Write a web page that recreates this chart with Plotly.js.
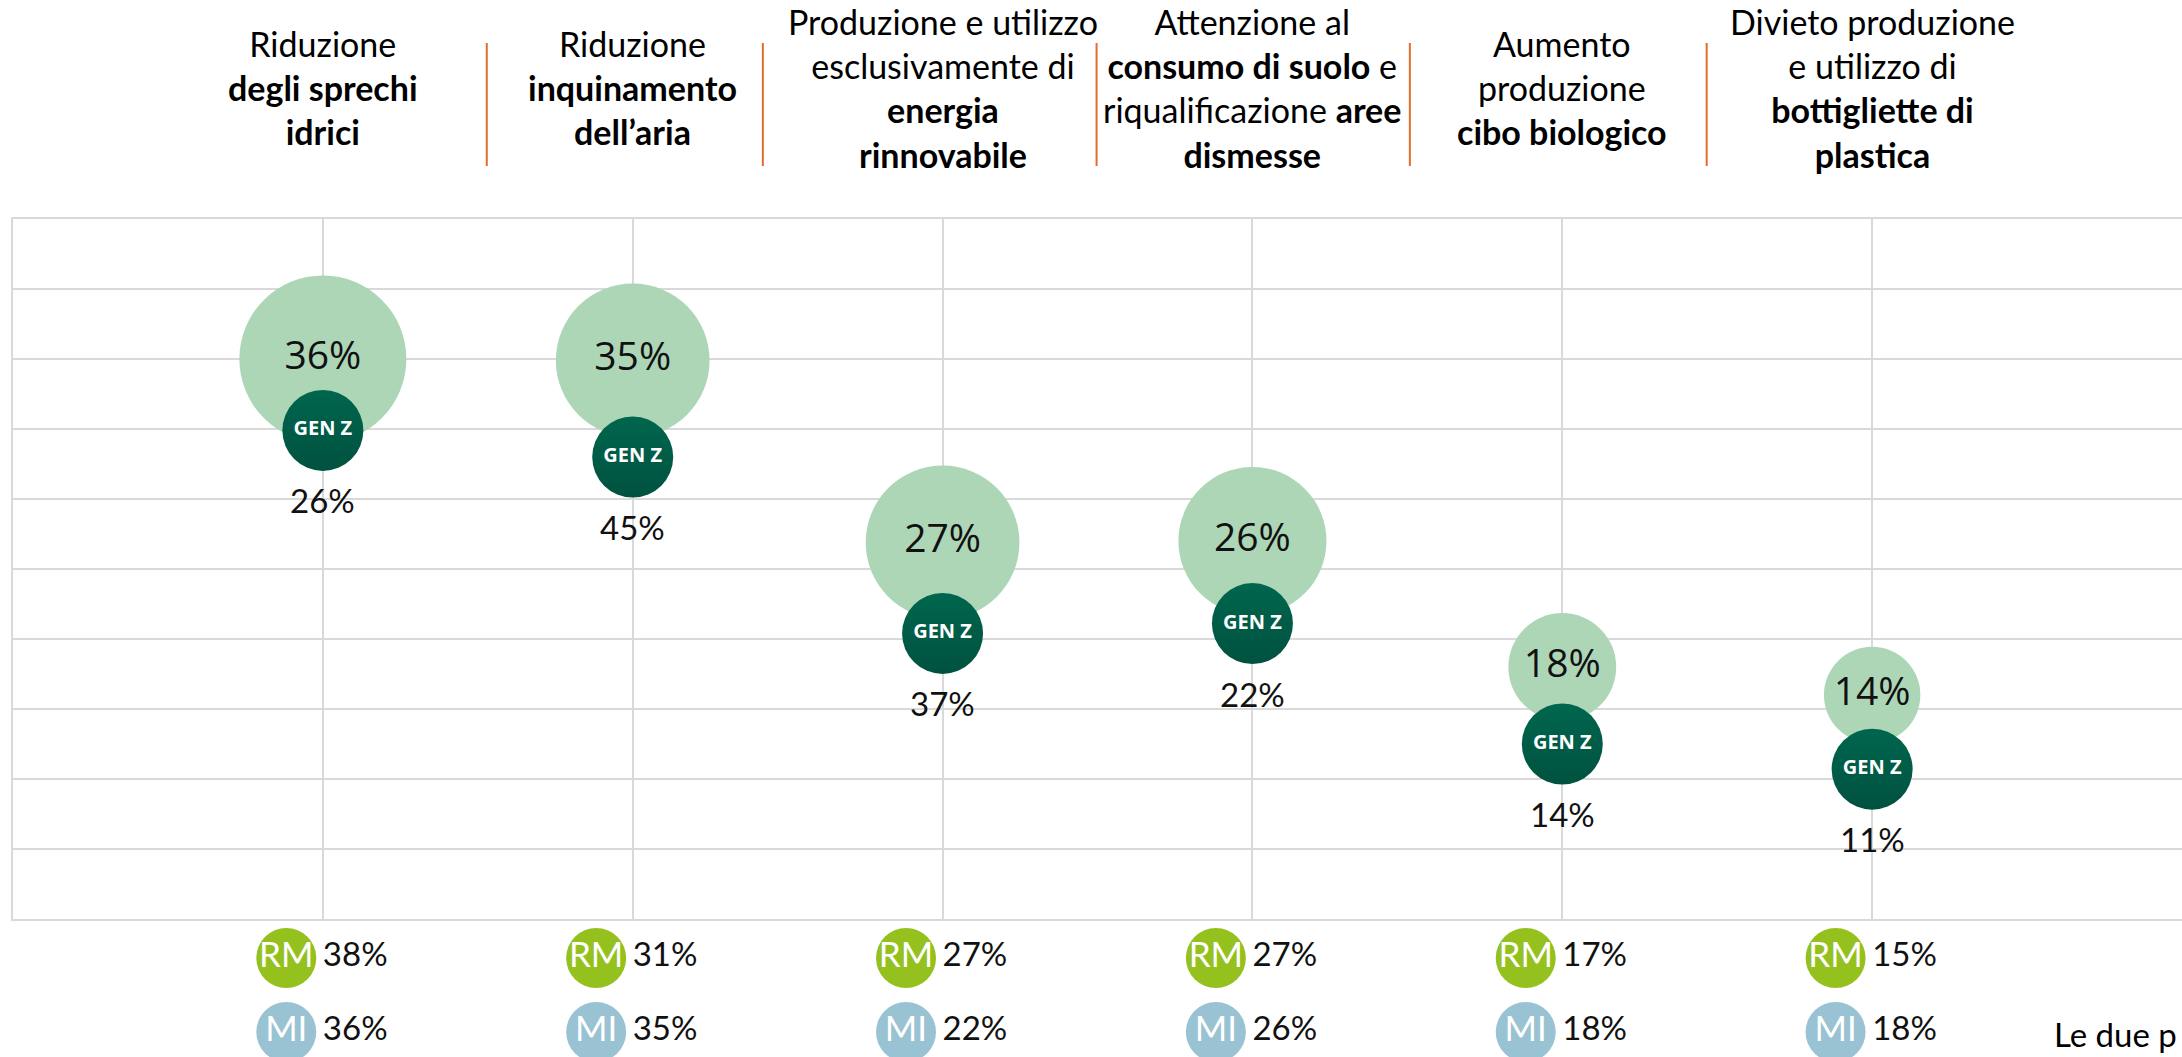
<!DOCTYPE html>
<html><head><meta charset="utf-8">
<script src="https://cdn.plot.ly/plotly-3.0.1.min.js"></script>
<style>html,body{margin:0;padding:0;background:#fff;overflow:hidden}#chart{width:2182px;height:1057px}</style>
</head><body><div id="chart"></div>
<script>
// ---- data ----
const categories = [
  'Riduzione<br><b>degli sprechi</b><br><b>idrici</b>',
  'Riduzione<br><b>inquinamento</b><br><b>dell’aria</b>',
  'Produzione e utilizzo<br>esclusivamente di<br><b>energia</b><br><b>rinnovabile</b>',
  'Attenzione al<br><b>consumo di suolo</b> e<br>riqualificazione <b>aree</b><br><b>dismesse</b>',
  'Aumento<br>produzione<br><b>cibo biologico</b>',
  'Divieto produzione<br>e utilizzo di<br><b>bottigliette di</b><br><b>plastica</b>'
];
const totalValues   = [36, 35, 27, 26, 18, 14];
const totalPosition = [40.0, 39.9, 26.9, 27.0, 18.0, 16.0];
const totalBubble   = [36, 30.5, 30.5, 28.3, 15.0, 12.0];
const genZValues    = [26, 45, 37, 22, 14, 11];
const genZPosition  = [34.9, 33.0, 20.4, 21.1, 12.5, 10.7];
const rmValues      = [38, 31, 27, 27, 17, 15];
const miValues      = [36, 35, 22, 26, 18, 18];
const groupLabels   = ['GEN Z', 'RM', 'MI'];
const footnote      = 'Le due p';

// ---- styling ----
const W = 2182, H = 1057;
const idx = categories.map((c, i) => i);
const pct = v => v + '%';
const grid = '#D9D9D9';
const darkGreen = '#00664E', lightGreen = '#ADD6B7', rmColor = '#95C11F', miColor = '#99C3D2';
const badgeOffset = -0.118;

const traces = [
  { // total bubbles
    x: idx, y: totalPosition, xaxis: 'x', yaxis: 'y',
    mode: 'markers+text', type: 'scatter',
    text: totalValues.map(pct), textposition: 'middle center',
    textfont: {family: 'Open Sans', size: 39, color: '#111'},
    marker: {size: totalBubble, sizemode: 'area', sizeref: 2 * 36 / (167 * 167), color: lightGreen, line: {width: 0}, opacity: 1},
    cliponaxis: false, hoverinfo: 'skip'
  },
  { // gen Z bubbles
    x: idx, y: genZPosition, xaxis: 'x', yaxis: 'y',
    mode: 'markers+text', type: 'scatter',
    text: idx.map(() => groupLabels[0]), textposition: 'middle center',
    textfont: {family: 'Open Sans', size: 20, color: '#fff', weight: 700},
    marker: {size: 81, color: darkGreen, gradient: {type: 'vertical', color: '#00523F'}, line: {width: 0}},
    cliponaxis: false, hoverinfo: 'skip'
  },
  { // RM badges
    x: idx.map(i => i + badgeOffset), y: idx.map(() => 1), xaxis: 'x2', yaxis: 'y2',
    mode: 'markers+text', type: 'scatter',
    text: idx.map(() => groupLabels[1]), textposition: 'middle center',
    textfont: {family: 'Lato', size: 35, color: '#fff'},
    marker: {size: 60, color: rmColor, line: {width: 0}},
    cliponaxis: false, hoverinfo: 'skip'
  },
  { // MI badges
    x: idx.map(i => i + badgeOffset), y: idx.map(() => 0), xaxis: 'x2', yaxis: 'y2',
    mode: 'markers+text', type: 'scatter',
    text: idx.map(() => groupLabels[2]), textposition: 'middle center',
    textfont: {family: 'Lato', size: 35, color: '#fff'},
    marker: {size: 60, color: miColor, line: {width: 0}},
    cliponaxis: false, hoverinfo: 'skip'
  },
  { // RM values
    x: idx, y: idx.map(() => 1), xaxis: 'x2', yaxis: 'y2',
    mode: 'text', type: 'scatter',
    text: rmValues.map(pct), textposition: 'middle right',
    textfont: {family: 'Lato', size: 33, color: '#111'},
    cliponaxis: false, hoverinfo: 'skip'
  },
  { // MI values
    x: idx, y: idx.map(() => 0), xaxis: 'x2', yaxis: 'y2',
    mode: 'text', type: 'scatter',
    text: miValues.map(pct), textposition: 'middle right',
    textfont: {family: 'Lato', size: 33, color: '#111'},
    cliponaxis: false, hoverinfo: 'skip'
  }
];

const annotations = [];
categories.forEach((c, i) => {
  annotations.push({
    x: i, xref: 'x', y: 1 - 88 / H, yref: 'paper', text: c, showarrow: false,
    xanchor: 'center', yanchor: 'middle', align: 'center',
    font: {family: 'Lato', size: 34, color: '#000'}
  });
  annotations.push({
    x: i, xref: 'x', y: genZPosition[i], yref: 'y', yshift: -70, text: pct(genZValues[i]),
    showarrow: false, xanchor: 'center', yanchor: 'middle',
    font: {family: 'Lato', size: 33, color: '#111'}
  });
});
annotations.push({
  x: 2052 / W, xref: 'paper', y: 1 / H, yref: 'paper', text: footnote, showarrow: false,
  xanchor: 'left', yanchor: 'bottom', font: {family: 'Lato', size: 33, color: '#000'}
});

const sepX = [0.529, 1.42, 2.497, 3.508, 4.466];
const shapes = sepX.map(x => ({
  type: 'line', xref: 'x', yref: 'paper', x0: x, x1: x, y0: 1 - 43 / H, y1: 1 - 166 / H,
  line: {color: '#E36C2F', width: 2}
}));

const xDomain = [13 / W, 1];
const layout = {
  width: W, height: H, margin: {l: 0, r: 0, t: 0, b: 0},
  paper_bgcolor: '#fff', plot_bgcolor: '#fff', showlegend: false,
  xaxis: {domain: xDomain, range: [-1, 6], tickmode: 'array', tickvals: idx, showticklabels: false, ticks: '',
          showgrid: true, gridcolor: grid, gridwidth: 2, zeroline: false,
          showline: true, mirror: true, linecolor: grid, linewidth: 2, fixedrange: true},
  yaxis: {domain: [138 / H, 838 / H], range: [0, 50], dtick: 5, showticklabels: false, ticks: '',
          showgrid: true, gridcolor: grid, gridwidth: 2, zeroline: false,
          showline: true, linecolor: grid, linewidth: 2, fixedrange: true},
  xaxis2: {domain: xDomain, range: [-1, 6], visible: false, anchor: 'y2', fixedrange: true},
  yaxis2: {domain: [0, 138 / H], range: [-0.338, 1.527], visible: false, anchor: 'x2', fixedrange: true},
  annotations: annotations, shapes: shapes, hovermode: false
};

Plotly.newPlot('chart', traces, layout, {displayModeBar: false, staticPlot: true});
</script>
</body></html>
